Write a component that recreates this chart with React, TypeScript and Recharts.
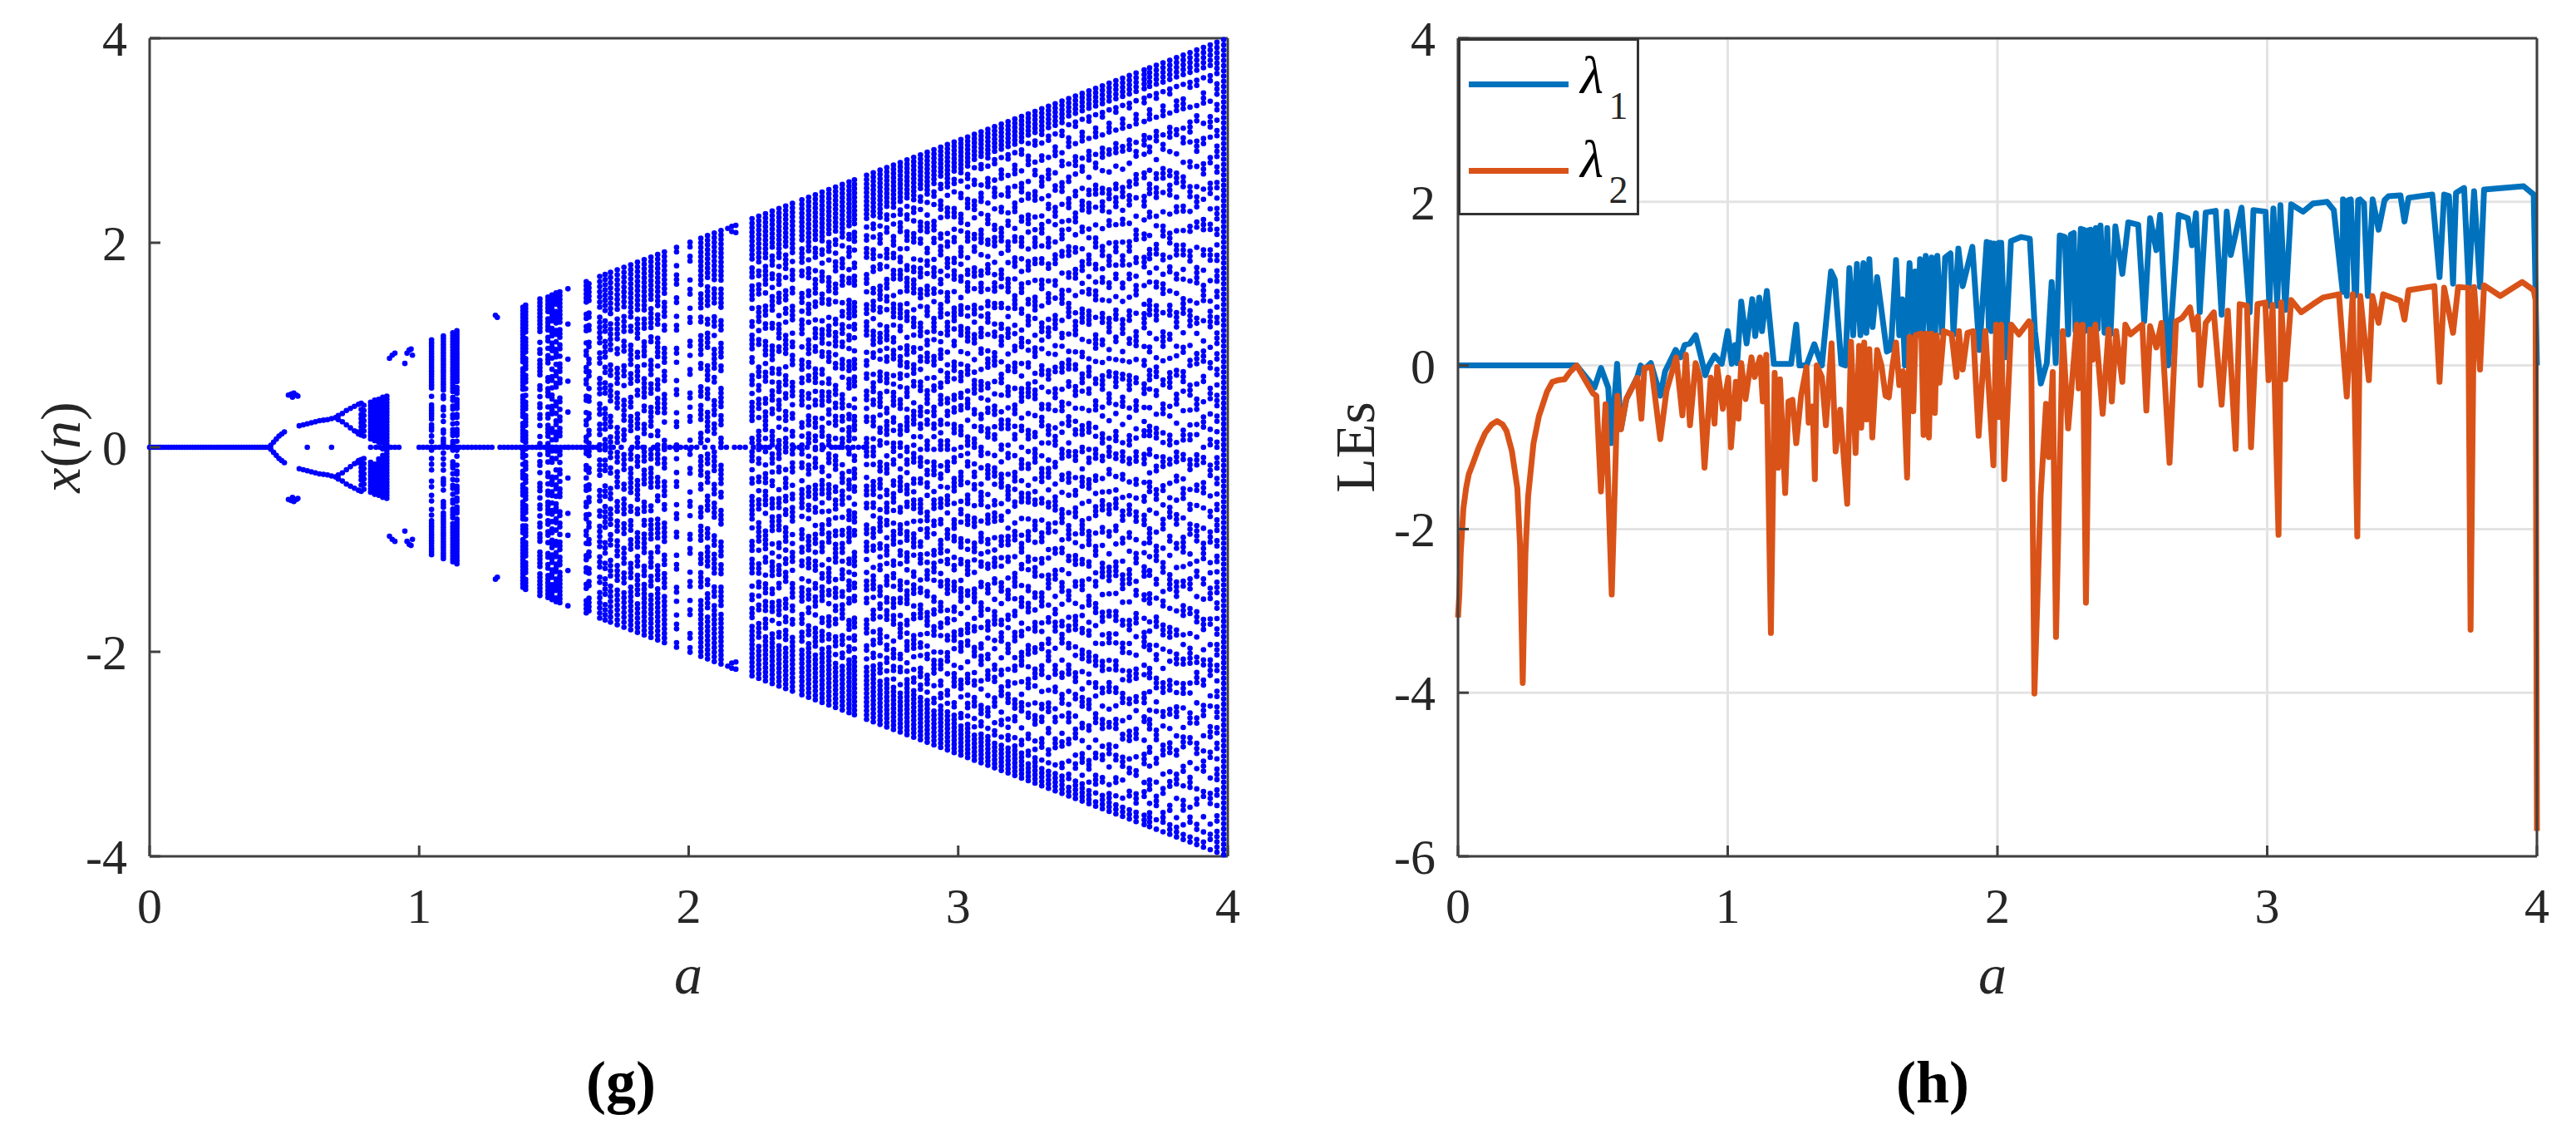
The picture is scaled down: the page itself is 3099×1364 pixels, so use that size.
import { CartesianGrid, Line, LineChart, Scatter, ScatterChart, XAxis, YAxis } from 'recharts'

const FONT = '"Liberation Serif", "Times New Roman", serif'
const INK = '#262626'
const AXIS = '#404040'
const BLUE = '#0072BD'
const ORANGE = '#D95319'
const DOT = '#0000ff'

const xTicks = [0, 1, 2, 3, 4]
const leftYTicks = [-4, -2, 0, 2, 4]
const rightYTicks = [-6, -4, -2, 0, 2, 4]

// (g) points sitting on x = 0
const zeroLineA = [
  0, 0.01, 0.02, 0.03, 0.04, 0.05, 0.06, 0.07, 0.08, 0.09, 0.1, 0.11, 0.12, 0.13, 0.14, 0.15, 0.16, 0.17, 0.18, 0.19,
  0.2, 0.21, 0.22, 0.23, 0.24, 0.25, 0.26, 0.27, 0.28, 0.29, 0.3, 0.31, 0.32, 0.33, 0.34, 0.35, 0.36, 0.37, 0.38, 0.39,
  0.4, 0.41, 0.42, 0.43, 0.44, 0.585, 0.675, 0.82, 0.84, 0.855, 0.87, 0.895, 0.91, 0.925, 1.0, 1.015, 1.03, 1.045, 1.06,
  1.075, 1.09, 1.105, 1.12, 1.135, 1.15, 1.165, 1.18, 1.195, 1.21, 1.225, 1.24, 1.255, 1.27, 1.3, 1.315, 1.33, 1.345,
  1.36, 1.375, 1.39, 1.405, 1.42, 1.435, 1.45, 1.465, 1.48, 1.495, 1.51, 1.525, 1.54, 1.555, 1.57, 1.585, 1.6, 1.615,
  1.63, 1.645, 1.66, 1.69, 1.72, 1.75, 1.79, 1.83, 1.87, 1.91, 1.93, 1.95, 1.97, 1.99, 2.01, 2.03, 2.06, 2.09, 2.12,
  2.14, 2.17, 2.19, 2.21, 2.24, 2.27, 2.3, 2.33, 2.36, 2.39, 2.41, 2.44, 2.47, 2.5, 2.53, 2.56, 2.59, 2.61, 2.63, 2.65,
]

const branchA = [
  0.45, 0.46, 0.47, 0.48, 0.49, 0.5, 0.515, 0.525, 0.535, 0.53, 0.545, 0.55, 0.555, 0.57, 0.585, 0.6, 0.615, 0.63, 0.645,
  0.66, 0.675, 0.69, 0.7, 0.715, 0.73, 0.745, 0.76, 0.775, 0.785, 0.7, 0.715, 0.73, 0.745, 0.76, 0.775, 0.785, 0.77,
  0.785, 0.785, 0.785, 0.785, 0.785, 0.785, 0.795, 0.795, 0.795, 0.795, 0.795, 0.795, 0.795, 0.9, 0.89, 0.91, 0.947,
  0.963, 0.955, 0.97, 0.975, 1.283, 1.29, 2.145, 2.16, 2.175, 2.175, 2.16,
]
const branchX = [
  0.02, 0.05, 0.08, 0.11, 0.13, 0.15, 0.51, 0.52, 0.53, 0.49, 0.51, 0.5, 0.21, 0.22, 0.23, 0.24, 0.25, 0.26, 0.265, 0.27,
  0.28, 0.29, 0.31, 0.33, 0.36, 0.38, 0.4, 0.42, 0.43, 0.27, 0.25, 0.22, 0.19, 0.16, 0.13, 0.12, 0.15, 0.16, 0.2, 0.24,
  0.28, 0.32, 0.37, 0.11, 0.16, 0.21, 0.26, 0.31, 0.36, 0.41, 0.9, 0.87, 0.92, 0.82, 0.95, 0.92, 0.96, 0.9, 1.29, 1.27,
  2.14, 2.16, 2.17, 2.1, 2.11,
]

// (g) narrow stripes left of the chaotic fan: column, top of column, filled cells from top to bottom
const stripeA = [0.82, 0.835, 0.85, 0.865, 0.88, 1.046, 1.09, 1.125, 1.14, 1.385, 1.395, 1.448, 1.478, 1.493, 1.508, 1.522, 1.552, 1.62, 1.63]
const stripeTop = [0.44, 0.46, 0.47, 0.49, 0.5, 1.05, 1.09, 1.12, 1.14, 1.37, 1.39, 1.45, 1.47, 1.49, 1.51, 1.52, 1.55, 1.62, 1.6]
const stripeCells = [
  '1111111111110000001111111111',
  '11111111111110000001111111111',
  '111111111111110000111111111111',
  '11111111111111101011111111111111',
  '111111111111111111111111111111111',
  '11111111111111111100100111111011101010010010101000101001010010101111111111111',
  '1111111111111111111101100110101001101110010101010011101000111011111111111111111',
  '1111111111111111111110110110110101110110100011101010110101101111011111111111111',
  '1111111111111111110111011110110101110101101001011010111011011101111111111111111',
  '11111111111111111011111110111111101111110111101011101111011111101110111111111111111',
  '11111111101111101111011101010111011110111101010111011101111011101011110111110111101111',
  '11111111110010110111110011010110110100101101011010011101011010110111001111101111111',
  '11111011110110101110001101110010110111101011010011010110111101101101001101101111111',
  '11111111011101110100101101011011100011010110110001110110101101011011101110111011111',
  '11110111101101011101011011000110101101110110100101011010111011010011011011101111011',
  '11111111101110110101110110001101011011100011010110101110001101101011101110111111111',
  '1000000010000000100001000000100000001000000100000001000010000000100000001',
  '1111110011011001011001101100110010110011011001101011001101100110100110110011001111',
  '1111100110110011001101100101100110011010110011001101100101100110110011011001111',
]

// (g) chaotic fan: a column spans x = +a to -a, one string of filled cells per column
const fanA = [
  1.67, 1.69, 1.71, 1.735, 1.76, 1.785, 1.81, 1.835, 1.86, 1.885, 1.91, 1.955, 2.005, 2.045, 2.07, 2.095, 2.12, 2.235, 2.26,
  2.285, 2.31, 2.335, 2.36, 2.385, 2.42, 2.445, 2.47, 2.495, 2.52, 2.545, 2.57, 2.595, 2.615, 2.66, 2.685, 2.71, 2.735,
  2.76, 2.785, 2.81, 2.835, 2.86, 2.885, 2.91, 2.935, 2.96, 2.985, 3.01, 3.035, 3.06, 3.085, 3.11, 3.135, 3.16, 3.185,
  3.21, 3.235, 3.26, 3.285, 3.31, 3.335, 3.36, 3.385, 3.41, 3.435, 3.46, 3.485, 3.51, 3.535, 3.56, 3.585, 3.61, 3.635,
  3.66, 3.69, 3.71, 3.735, 3.76, 3.785, 3.81, 3.835, 3.86, 3.885, 3.91, 3.935, 3.96, 3.985, 4,
]
const fanCells = [
  '11111110111111011100111101110111011011110011101101111101110110111111',
  '11111111011101111011011100111110111011100111011111001110110111101111',
  '111111111011111100111011110011101111101100111011110111001111011111111',
  '1111111110111110110011110111100011110111011110011101110111101111011111111',
  '11111111101111011100111010011111011100111100110111101110011110111011111111',
  '111111111111011001111101110011101111000111011111100110111011100111101111111111',
  '1111111111101111100110111101100011110111011100111110110001111011101111101111111',
  '11111111111101110011110100111110110011100111101111000111011011111001110111111111111',
  '1111111111011111011000111101110011111010011101111100011011111001111011101111111111',
  '111111111111011100111110100111011110001101111100111011000111110110011110111111111111',
  '11111111110111101100011110111001111101000111011100111101100111110011101111011111111111',
  '1100101110011001011000110100010110001011000110100101100010110011000101100011010010110011',
  '1101100010110010110001101001100011010110001011001100010110100011011000101100101100011011',
  '1111111111101111011001111101100011101111001110011111011000111011110011101111001111111111111',
  '11111111110111110011011110001111011100111110100111011100111100011101111100110111101111111111',
  '111111111110111100111010011111011000111101110001111100111011110001110111110011101111111111111',
  '1111111111110111110011100111101100011111011100111000111110110011110001111011100111110111111111111',
  '1111111111011101111010011011110110011101011111000110111010110011111101001110111100101101110111111111111',
  '111111111110110111001111010110000111011011101001111101100110101110011111010011101101011001111011111111',
  '11111111111011111010011101100111101011100011011111010110010111011110100011111011001011101110111011111111111',
  '1111111110111011010111100110001111011010111011000111101110101100111011110010101111001101110100111111111111',
  '111111111111010111011100101111011000110111011101010011111011000101110111100110101110110011110101101111111111',
  '1111111111011110100111011010011111001011101100111010111100010111011011001111010110111000111011011101111111111',
  '11111111111101011101100111100101101110001111010110011011101110010110111100101011101001111011011001111111111111',
  '1111111111011110110001110101111001001110110111100011010111011001011111010011101101100101111001110111011111111111',
  '11111111111110101110011011101000111101101100110101110111001011100111011010001111011100101110110011101111111111111',
  '111111111110111001011110110010111011000111101011001110110101110001111011001011101011100110111010011111011111111111',
  '11111111111101101011100111000101111011001101011110010111011000110111101010011101110010110111100011011101111111111111',
  '1111111111101110100011110110010111010111000110111011010011101110010111100101101110001011110110100111011011111111111111',
  '11111111111011010111001110100011011110101100011101101110010101111000110111010011011111000101110110110011101011111111111',
  '1111111111111010011101110001011011101100111010001111011010111000101110111100100110111010111001101111000111011011111111111',
  '11111111111011011100101100011111010110100111011100010110111101100010111010011101111000110101110110001110101101111111111111',
  '111111111110111010011011100011110110100101110111001010111101000110111011001011101100011110101101100011101101011111111111111',
  '1111111111101011011100011101001110111100010110110011101011000111110100101110110001110111010010111011000111100110101111111111111',
  '111111111110110100111011000110111010011110110001011101100111001011101000111101101001110110001011110100111001011011011111111111111',
  '1111111111110101110010110001111011001011101010011100111101001101100011101110100101111001101011000111011010011110010111011111111111',
  '11111111110110110001110100111011010001111010110011101000110111101001011100011011101100101110100111001101110001011011010111111111111',
  '111111111110101001110110011100010111101001101110001010111100110100111011000110111010010111100011011010011101110001011101101011111111111',
  '1111111111011011100010110111001001111011000101110110100111000111011010010111100011001110101101000111011001011110001101100101111111111',
  '11111111110101100111010001101111001011100010111011010011100101111000110110100111011000101110011101001011110001101011100101011111111111111',
  '111111111110110100111000101101111000101110100110011101100010111100101011100011010111001001111010001101110010110001111010010110111111111111',
  '11111111101101001110110001011100111010001111001011010011100011101101001011100110001111010100110111000101100111100010110100111011011111111111',
  '1111111111101001011100011011010011100111000101101110001001111010110001110010110110100011101110001010111001100011110100101100011101011111111111',
  '1111111110110100011101100010111001101000111101000111001011000111011010010011110001011100110100011011101000110110011100010111100100110111111111',
  '11111111011001110100011011100010110100111100010101110010011011100011010111000101101001110011000111101001011000111001101000101110011011011111111111',
  '111111111110100111000101100111010001110010111100010010111000110110100011100111000101110100011100101100011110001011001100111001000110101111111111',
  '1111111101101000111001011000110111001000111101001100011101000110110011100010110001111001000111011000101100111000110100111010001011110001101111111111',
  '11111111101001100011101000111010011000101110011100010010111001101100011100101000111100010110100011100110001011110010001101110001001110100011011111111',
  '111111110110100111000101110001001101110001010011110010011100010111001000111010110001001110011100010100111100011001000111011000100111001011010111111111',
  '1111111010011000111010001101100011100100011101001110001001011110001100100111000101101100010011100011101001000111100010110001110001011001110010101111111',
  '11111110110001011100100011110010001101110001010011100110001001110100011011000111001000101111000100111001011000110001111001000110111000101000111011011111111',
  '111111110100111000100111000110010111000100110111001000101110001100101100011100010011110001001011100011010011000111000100111010001100111000100111001011111111',
  '1111111011000101110010001101110001001011100110001011000111100010010011100101100010011101000110111000100101110011000100111100010100011011000111000101101111111',
  '111111101001110001001100011110010001110100011000110111000100111001000101110001100100111100010011000111001010001110010001101110001001100111000101100101111111',
  '11111110110001001110001011000111001000111100010100111000100110001110010011100010110001001111001000101110011000100111000110100011100010011011100010101101111111',
  '1111111010011100100011100010110001110010001111000101001100111000100011100101100010001110100110001011100010001111001001100011100010110010001110110001011111111',
  '111111101100010011101000110001110010010011100011000101110001001001111000101100010011100100111000100010111001100010011100010110001111000100101110001001101111111',
  '111111010011100010011000111010001001110010001100111000101001100011110001000111001001100010111000100111000110100011001110001000111001001110001011000110011011111',
  '1111110110001011000111000100101110011000100011110100010011100010101110001000110011110001001011000111001000101110001100100111000110001110100010011100010101111111',
  '111111101001100011100100010111001001100011100010001110101000111001000110111000100100111100011000100111000110010001111000101001100011100010011011000111001011111',
  '11111101100010011100010110010001110001100100111000101110001000111001001100011101000101110010011000111000101000111100010011000110111000100100111000110001101011111',
  '1111110100111000100110001110100010011100011001000111100010100110001110010001011100011000100111100101000110001110001001101110001000111001100010110001110001011111',
  '111111011000101100011100100010111001100010001111000100110100011100010011100101000111000110010001111000101100010011100100011011100010011000111001000101100011011111',
  '11111010011100010011000111001010001110001100100111100010001011100110001001110001011000111001000100111100011001000111000101100110001110001001011100011000100110111',
  '1111101100010011101000110001110010011000111000100010111100010011000111001001011000111000100110011100010100111000110001001111000101000111001100010011100010110011111',
  '111110100111000101100010011100011000100111001010001111000100110001110100010001110011000101110001000111100100110001110001010011000111001000101110001100100111001011111',
  '1111101100010011100010011011100010100011100100110001111000100010111001100010011100010110001110010001001111000110010001110001011000111001010001110001100010011100101111',
  '11111010011100010110001110010001001110001100101110001000111100100011000111000101001110001100100111000100111000101100011100100010011100011010001110001001100011101011',
  '1111101100010011100100011011100010001110010110001001110001100010011110001010001110011000100101110001100100011110001000111001010001110001100100111000101100011001111',
  '111110100111000110001000111001011000100111000110010001111000101001100011100010001011100110001001110001100010011110010001100011100010100111000100110001110010001011111',
  '11111011000100111001000110111000100011100101100010011100011000100111100010100011100110001001011100011001000111100010001110010100011100011001001110001011000110010111',
  '1111101001110001100010001110010110001001110001100100011110001010011000111000100010111001100010011100011000100111100100011000111000101001110001001100011100100010111',
  '111110110001001110010001101110001000111001011000100111000110001001111000101000111001100010010111000110010001111000100011100101000111000110010011100010110001100111',
  '1111101001110001011000111001000100111000110010111000100011110010001100011100010100111000110010011100010011100010110001110010001001110001101000111000100110001110111',
  '111110110001001110100011000111001001100011100010001011110001001100011100100101100011100010011001110001010011100011000100111100010100011100110001001110001011000111',
  '11111010011100010110001001110001100010011100101000111100010011000111010001000111001100010111000100011110010011000111000101001100011100100010111000110010011100101111',
  '1111101100010011100010011011100010100011100100110001111000100010111001100010011100010110001110010001001111000110010001110001011000111001010001110001100010011100101',
  '11111010011100010110001110010001001110001100101110001000111100100011000111000101001110001100100111000100111000101100011100100010011100011010001110001001100011101',
  '111110110001001110010001101110001000111001011000100111000110001001111000101000111001100010010111000110010001111000100011100101000111000110010011100010110001100111',
  '1111101001110001100010001110010110001001110001100100011110001010011000111000100010111001100010011100011000100111100100011000111000101001110001001100011100100010111',
  '111110100111000101100010011100011000100111001010001111000100110001110100010001110011000101110001000111100100110001110001010011000111001000101110001100100111001011',
  '1111101100010011101000110001110010011000111000100010111100010011000111001001011000111000100110011100010100111000110001001111000101000111001100010011100010110011',
  '11111011000101100011100100010111001100010001111000100110100011100010011100101000111000110010001111000101100010011100100011011100010011000111001000101100011011',
  '111110100111000100110001110010100011100011001001111000100010111001100010011100010110001110010001001111000110010001110001011001100011100010010111000110001001011',
  '11111011000100111010001100011100100110001110001000101111000100110001110010010110001110001001100111000101001110001100010011110001010001110011000100111000101101',
  '1111111011101101011011101101101011101101011011101101011011101101101011101101011011101101011011101101101011101101011011101101011011101101101011101101011011111',
  '11111111111111111111111111111111111111111111111111111111111111111111111111111111111111111111111111111111111111111111111111111111111111111111111111111111111111',
]

const lambda1A = [
  0, 0.44, 0.506, 0.53, 0.557, 0.568, 0.59, 0.604, 0.624, 0.665, 0.677, 0.691, 0.715, 0.75, 0.768, 0.807, 0.825, 0.84, 0.86,
  0.881, 0.896, 0.917, 0.927, 0.951, 0.978, 1.0, 1.015, 1.027, 1.035, 1.05, 1.07, 1.091, 1.102, 1.117, 1.127, 1.145, 1.171,
  1.235, 1.254, 1.266, 1.292, 1.321, 1.349, 1.383, 1.397, 1.421, 1.436, 1.451, 1.465, 1.479, 1.492, 1.503, 1.514, 1.525,
  1.537, 1.554, 1.59, 1.605, 1.624, 1.636, 1.647, 1.657, 1.674, 1.685, 1.695, 1.705, 1.713, 1.723, 1.734, 1.749, 1.756,
  1.769, 1.777, 1.794, 1.806, 1.826, 1.837, 1.855, 1.871, 1.907, 1.933, 1.96, 1.977, 1.989, 2.0, 2.014, 2.029, 2.05, 2.088,
  2.12, 2.139, 2.161, 2.183, 2.201, 2.216, 2.231, 2.25, 2.262, 2.272, 2.295, 2.309, 2.323, 2.345, 2.357, 2.382, 2.397,
  2.407, 2.419, 2.437, 2.463, 2.485, 2.522, 2.544, 2.566, 2.589, 2.603, 2.633, 2.672, 2.706, 2.721, 2.736, 2.75, 2.772,
  2.809, 2.831, 2.85, 2.865, 2.905, 2.935, 2.949, 2.994, 3.008, 3.023, 3.037, 3.049, 3.067, 3.089, 3.133, 3.17, 3.222,
  3.247, 3.281, 3.295, 3.31, 3.325, 3.344, 3.359, 3.373, 3.391, 3.413, 3.435, 3.45, 3.494, 3.509, 3.524, 3.612, 3.639,
  3.656, 3.674, 3.689, 3.7, 3.73, 3.747, 3.767, 3.789, 3.804, 3.877, 3.951, 3.988, 4,
  1.968, 1.972, 1.983, 2.006, 2.01, 2.283, 2.289, 2.316, 2.319, 2.334, 2.34, 2.365, 2.372, 3.28, 3.3, 3.33, 3.337,
]
const lambda1V = [
  0, 0, -0.27, -0.03, -0.27, -0.95, 0.02, -0.78, -0.41, -0.14, 0, -0.05, 0.03, -0.37, -0.07, 0.19, 0.1, 0.25, 0.27, 0.37, 0.17,
  -0.12, -0.02, 0.12, 0.02, 0.42, 0.02, 0.25, 0.03, 0.78, 0.27, 0.81, 0.36, 0.83, 0.42, 0.91, 0.02, 0.02, 0.5, 0, 0, 0.26, 0,
  1.15, 1.05, 0.02, 0, 1.19, 0.37, 1.24, 0.37, 1.25, 0.4, 1.3, 0.47, 1.08, 0.17, 0.2, 1.29, 0.37, 0.81, 0, 1.25, 0.37, 1.15,
  0.37, 1.3, 0.37, 1.34, 0.37, 1.32, 0.37, 1.34, 0.4, 1.32, 1.37, 0.38, 1.43, 0.97, 1.45, 0.19, 1.51, 0.42, 1.49, 0.42, 1.5,
  0.1, 1.52, 1.57, 1.55, 0.42, -0.22, 0.03, 1.02, 0.03, 1.59, 1.57, 0.38, 1.6, 0.4, 1.67, 0.42, 1.66, 0.46, 1.71, 0.4, 1.68,
  0.38, 1.7, 1.12, 1.75, 1.72, 0.54, 1.8, 1.41, 1.84, 0, 1.84, 1.8, 1.47, 1.86, 0.65, 1.87, 1.89, 0.62, 1.88, 1.35, 1.93,
  0.65, 1.9, 1.88, 0.73, 1.92, 0.73, 1.96, 0.68, 1.97, 1.88, 1.98, 2.0, 1.9, 2.03, 0.85, 2.03, 0.85, 2.03, 1.98, 0.85, 2.03,
  1.66, 2.02, 2.07, 2.08, 1.76, 2.05, 2.09, 1.08, 2.09, 2.07, 1.0, 2.11, 2.17, 0.96, 2.13, 0.96, 2.15, 2.17, 2.19, 2.09, 0,
  0.45, 1.5, 1.49, 1.5, 0.42, 1.62, 0.42, 0.5, 1.66, 1.65, 0.45, 1.68, 0.45, 0.9, 2.02, 0.9, 2.02,
]

const lambda2A = [
  0, 0.005, 0.01, 0.02, 0.03, 0.04, 0.055, 0.075, 0.1, 0.125, 0.145, 0.165, 0.18, 0.2, 0.22, 0.23, 0.24, 0.25, 0.26, 0.28, 0.3,
  0.33, 0.35, 0.37, 0.395, 0.415, 0.44, 0.5, 0.513, 0.53, 0.547, 0.57, 0.591, 0.604, 0.624, 0.665, 0.68, 0.691, 0.717, 0.75,
  0.773, 0.809, 0.832, 0.845, 0.86, 0.881, 0.896, 0.914, 0.937, 0.951, 0.961, 0.982, 1.002, 1.012, 1.03, 1.04, 1.05, 1.066,
  1.088, 1.1, 1.12, 1.13, 1.143, 1.16, 1.174, 1.187, 1.194, 1.213, 1.225, 1.24, 1.254, 1.272, 1.292, 1.3, 1.315, 1.323, 1.33,
  1.349, 1.364, 1.385, 1.4, 1.417, 1.443, 1.457, 1.474, 1.487, 1.495, 1.506, 1.515, 1.525, 1.536, 1.554, 1.57, 1.585, 1.597,
  1.61, 1.624, 1.636, 1.65, 1.665, 1.674, 1.688, 1.696, 1.718, 1.726, 1.737, 1.746, 1.755, 1.768, 1.775, 1.785, 1.801, 1.83,
  1.848, 1.857, 1.871, 1.889, 1.91, 1.93, 1.955, 1.985, 1.995, 2.004, 2.014, 2.025, 2.051, 2.08, 2.117, 2.124, 2.137, 2.16,
  2.18, 2.19, 2.205, 2.217, 2.242, 2.262, 2.294, 2.301, 2.316, 2.328, 2.343, 2.353, 2.363, 2.39, 2.412, 2.424, 2.44, 2.463,
  2.474, 2.493, 2.537, 2.552, 2.566, 2.589, 2.608, 2.638, 2.662, 2.684, 2.714, 2.728, 2.743, 2.753, 2.772, 2.802, 2.831, 2.854,
  2.883, 2.898, 2.925, 2.94, 2.964, 2.993, 3.005, 3.02, 3.042, 3.052, 3.067, 3.089, 3.126, 3.17, 3.207, 3.266, 3.295, 3.317,
  3.334, 3.345, 3.377, 3.39, 3.413, 3.43, 3.494, 3.509, 3.524, 3.62, 3.639, 3.656, 3.689, 3.708, 3.745, 3.754, 3.767, 3.789,
  3.804, 3.864, 3.945, 3.988, 3.995, 4,
]
const lambda2V = [
  -3.08, -2.8, -2.3, -1.75, -1.5, -1.33, -1.2, -1.02, -0.83, -0.72, -0.68, -0.72, -0.8, -1.05, -1.5, -2.2, -3.88, -2.3, -1.6,
  -0.95, -0.62, -0.32, -0.2, -0.18, -0.17, -0.08, 0, -0.34, -0.37, -1.54, -0.475, -2.8, -0.37, -0.78, -0.41, -0.15, -0.65, -0.03,
  -0.02, -0.9, -0.31, 0.1, -0.61, 0.13, -0.73, 0.03, -0.14, -1.25, -0.15, -0.71, -0.02, -0.53, -0.15, -1.0, -0.2, -0.65, 0.03,
  -0.41, 0.1, -0.14, 0.1, -0.44, 0.13, -3.27, -0.09, -1.25, -0.17, -1.56, -0.44, -0.42, -0.95, -0.37, -0.02, -0.7, -0.5, -1.39, 0,
  -0.14, -0.73, 0.27, -1.05, -0.54, -1.69, 0.29, -1.07, 0.24, -0.76, 0.28, -0.66, 0.2, -0.88, 0.19, 0, -0.37, -0.39, -0.02, 0.28,
  -0.24, -0.07, -1.37, 0.35, -0.56, 0.37, 0.39, -0.85, 0.39, -0.88, 0.39, -0.58, 0.37, -0.21, 0.42, 0.38, -0.14, 0.42, -0.05, 0.4,
  0.42, -0.86, 0.42, -1.22, 0.5, -0.63, 0.5, -1.39, 0.5, 0.38, 0.54, 0.5, -4.01, -1.6, -0.47, -1.12, -0.08, -3.32, 0.42, -0.77, 0.5,
  -0.28, 0.5, -2.9, 0.44, 0.07, 0.5, -0.59, 0.44, -0.44, 0.42, -0.2, 0.5, 0.38, 0.5, -0.55, 0.48, 0.22, 0.52, -1.19, 0.54, 0.58,
  0.71, 0.44, 0.6, -0.24, 0.52, 0.65, -0.48, 0.67, -1.02, 0.75, 0.73, -1.0, 0.75, 0.77, -0.18, 0.74, -2.07, 0.77, -0.17, 0.8, 0.65,
  0.75, 0.83, 0.87, -0.38, 0.87, -2.09, 0.85, -0.18, 0.85, 0.52, 0.87, 0.79, 0.56, 0.92, 0.97, -0.2, 0.95, 0.4, 0.96, 0.95, -3.23,
  0.96, -0.05, 0.98, 0.85, 1.02, 0.92, 0.8, -5.69,
]

const decode = (a: number, top: number, cells: string) => {
  const last = cells.length - 1
  const points: { a: number; x: number }[] = []
  for (let k = 0; k <= last; k++) {
    if (cells[k] === '1') points.push({ a, x: top - (2 * top * k) / last })
  }
  return points
}

const mapPoints = [
  ...zeroLineA.map((a) => ({ a, x: 0 })),
  ...branchA.flatMap((a, i) => [{ a, x: branchX[i] }, { a, x: -branchX[i] }]),
  ...stripeA.flatMap((a, i) => decode(a, stripeTop[i], stripeCells[i])),
  ...fanCells.flatMap((cells, i) => decode(fanA[i], fanA[i], cells)),
]

const lambda1 = lambda1A.map((a, i) => ({ a, v: lambda1V[i] })).sort((p, q) => p.a - q.a)
const lambda2 = lambda2A.map((a, i) => ({ a, v: lambda2V[i] }))

const TICK_LEN = 13

const BottomTick = ({ x, y, payload }: any) => (
  <g>
    <line x1={x} x2={x} y1={y} y2={y - TICK_LEN} stroke={AXIS} strokeWidth={3} />
    <text x={x} y={y + 80} textAnchor="middle" fontFamily={FONT} fontSize={60} fill={INK}>
      {payload.value}
    </text>
  </g>
)
const TopTick = ({ x, y }: any) => <line x1={x} x2={x} y1={y} y2={y + TICK_LEN} stroke={AXIS} strokeWidth={3} />
const LeftTick = ({ x, y, payload }: any) => (
  <g>
    <line x1={x} x2={x + TICK_LEN} y1={y} y2={y} stroke={AXIS} strokeWidth={3} />
    <text x={x - 27} y={y + 21} textAnchor="end" fontFamily={FONT} fontSize={60} fill={INK}>
      {payload.value}
    </text>
  </g>
)
const RightTick = ({ x, y }: any) => <line x1={x} x2={x - TICK_LEN} y1={y} y2={y} stroke={AXIS} strokeWidth={3} />

const axisProps = {
  tickSize: 0,
  tickMargin: 0,
  tickLine: false,
  interval: 0 as const,
  axisLine: { stroke: AXIS, strokeWidth: 3 },
}

const MapDot = ({ cx, cy }: any) => <circle cx={cx} cy={cy} r={3.3} fill={DOT} />

const textAt = (left: number, top: number, extra: any = {}) =>
  ({
    position: 'absolute',
    left,
    top,
    transform: 'translate(-50%, -50%)',
    fontFamily: FONT,
    fontSize: 68,
    lineHeight: 1,
    color: INK,
    whiteSpace: 'nowrap',
    ...extra,
  }) as const

export default function App() {
  return (
    <div style={{ position: 'absolute', left: 0, top: 0, width: 3099, height: 1364, background: '#fff', overflow: 'hidden' }}>
      <div style={{ position: 'absolute', left: 0, top: 0 }}>
        <ScatterChart width={1520} height={1364} margin={{ left: 179, top: 45, right: 42, bottom: 333 }}>
          <XAxis {...axisProps} dataKey="a" type="number" domain={[0, 4]} ticks={xTicks} height={1} tick={<BottomTick />} />
          <XAxis {...axisProps} xAxisId="top" orientation="top" type="number" domain={[0, 4]} ticks={xTicks} height={1} tick={<TopTick />} />
          <YAxis {...axisProps} dataKey="x" type="number" domain={[-4, 4]} ticks={leftYTicks} width={1} tick={<LeftTick />} />
          <YAxis {...axisProps} yAxisId="right" orientation="right" type="number" domain={[-4, 4]} ticks={leftYTicks} width={1} tick={<RightTick />} />
          <Scatter data={mapPoints} isAnimationActive={false} shape={<MapDot />} />
        </ScatterChart>
      </div>
      <div style={{ position: 'absolute', left: 1520, top: 0 }}>
        <LineChart width={1579} height={1364} margin={{ left: 233, top: 45, right: 46, bottom: 333 }}>
          <CartesianGrid stroke="#e3e3e3" strokeWidth={3} horizontalValues={rightYTicks} verticalValues={xTicks} />
          <XAxis {...axisProps} dataKey="a" type="number" domain={[0, 4]} ticks={xTicks} height={1} tick={<BottomTick />} />
          <XAxis {...axisProps} xAxisId="top" orientation="top" type="number" domain={[0, 4]} ticks={xTicks} height={1} tick={<TopTick />} />
          <YAxis {...axisProps} type="number" domain={[-6, 4]} ticks={rightYTicks} width={1} tick={<LeftTick />} />
          <YAxis {...axisProps} yAxisId="right" orientation="right" type="number" domain={[-6, 4]} ticks={rightYTicks} width={1} tick={<RightTick />} />
          <Line data={lambda1} dataKey="v" stroke={BLUE} strokeWidth={7} dot={false} isAnimationActive={false} strokeLinejoin="round" />
          <Line data={lambda2} dataKey="v" stroke={ORANGE} strokeWidth={7} dot={false} isAnimationActive={false} strokeLinejoin="round" />
        </LineChart>
      </div>

      <div style={{ position: 'absolute', left: 1754, top: 46, width: 218, height: 213, boxSizing: 'border-box', border: '3px solid #333', background: '#fff' }} />
      <div style={{ position: 'absolute', left: 1767, top: 98, width: 120, height: 7, background: BLUE }} />
      <div style={{ position: 'absolute', left: 1767, top: 202, width: 120, height: 7, background: ORANGE }} />
      <div style={textAt(1915, 91, { fontSize: 64, fontStyle: 'italic', color: '#000' })}>λ</div>
      <div style={textAt(1947, 128, { fontSize: 46 })}>1</div>
      <div style={textAt(1915, 192, { fontSize: 64, fontStyle: 'italic', color: '#000' })}>λ</div>
      <div style={textAt(1947, 229, { fontSize: 46 })}>2</div>

      <div style={textAt(73, 538, { transform: 'translate(-50%, -50%) rotate(-90deg)' })}>
        <i>x</i>(<i>n</i>)
      </div>
      <div style={textAt(1630, 538, { transform: 'translate(-50%, -50%) rotate(-90deg)' })}>LEs</div>
      <div style={textAt(828, 1172, { fontStyle: 'italic' })}>a</div>
      <div style={textAt(2397, 1172, { fontStyle: 'italic' })}>a</div>
      <div style={textAt(747, 1302, { fontWeight: 700, fontSize: 72, color: '#000' })}>(g)</div>
      <div style={textAt(2325, 1302, { fontWeight: 700, fontSize: 72, color: '#000' })}>(h)</div>
    </div>
  )
}
